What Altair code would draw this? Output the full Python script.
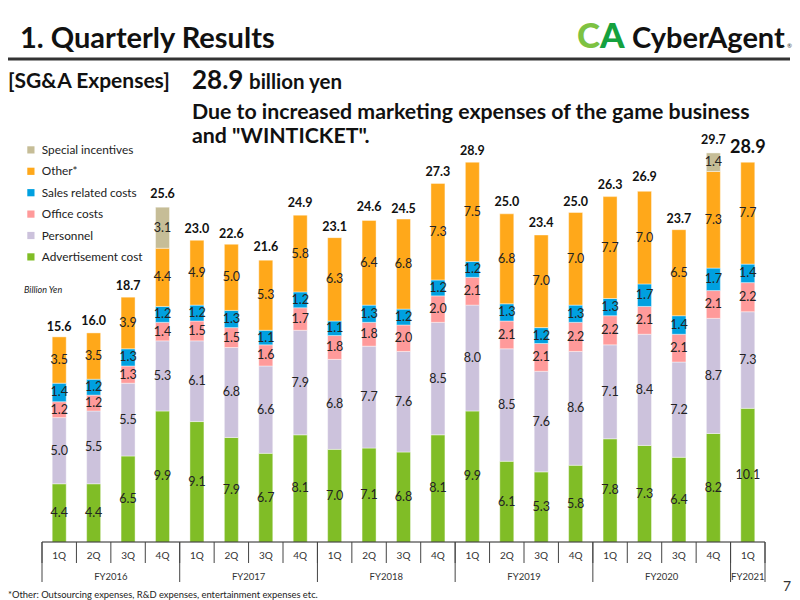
import altair as alt
import pandas as pd

# ---------------- data ----------------
quarter_labels = ["1Q", "2Q", "3Q", "4Q"] * 5 + ["1Q"]
fiscal_years = ["FY2016", "FY2017", "FY2018", "FY2019", "FY2020", "FY2021"]
quarters_per_year = [4, 4, 4, 4, 4, 1]

advertisement = [4.4, 4.4, 6.5, 9.9, 9.1, 7.9, 6.7, 8.1, 7.0, 7.1, 6.8, 8.1, 9.9, 6.1, 5.3, 5.8, 7.8, 7.3, 6.4, 8.2, 10.1]
personnel = [5.0, 5.5, 5.5, 5.3, 6.1, 6.8, 6.6, 7.9, 6.8, 7.7, 7.6, 8.5, 8.0, 8.5, 7.6, 8.6, 7.1, 8.4, 7.2, 8.7, 7.3]
office = [1.2, 1.2, 1.3, 1.4, 1.5, 1.5, 1.6, 1.7, 1.8, 1.8, 2.0, 2.0, 2.1, 2.1, 2.1, 2.2, 2.2, 2.1, 2.1, 2.1, 2.2]
sales = [1.4, 1.2, 1.3, 1.2, 1.2, 1.3, 1.1, 1.2, 1.1, 1.3, 1.2, 1.2, 1.2, 1.3, 1.2, 1.3, 1.3, 1.7, 1.4, 1.7, 1.4]
other = [3.5, 3.5, 3.9, 4.4, 4.9, 5.0, 5.3, 5.8, 6.3, 6.4, 6.8, 7.3, 7.5, 6.8, 7.0, 7.0, 7.7, 7.0, 6.5, 7.3, 7.7]
special = [0, 0, 0, 3.1, 0, 0, 0, 0, 0, 0, 0, 0, 0, 0, 0, 0, 0, 0, 0, 1.4, 0]
totals = [15.6, 16.0, 18.7, 25.6, 23.0, 22.6, 21.6, 24.9, 23.1, 24.6, 24.5, 27.3, 28.9, 25.0, 23.4, 25.0, 26.3, 26.9, 23.7, 29.7, 28.9]

categories = ["Special incentives", "Other*", "Sales related costs", "Office costs", "Personnel", "Advertisement cost"]
colors = ["#C6BD97", "#FFA81A", "#00A0E0", "#FF9A9A", "#CCC2DC", "#80BD26"]

# ---------------- tables ----------------
series_bottom_up = [
    ("Advertisement cost", advertisement),
    ("Personnel", personnel),
    ("Office costs", office),
    ("Sales related costs", sales),
    ("Other*", other),
    ("Special incentives", special),
]
rows = []
for i in range(len(quarter_labels)):
    base = 0.0
    for cat, vals in series_bottom_up:
        v = vals[i]
        if v > 0:
            rows.append({"idx": i, "category": cat, "value": v,
                         "y0": base, "y1": base + v, "mid": base + v / 2})
            base += v
seg = pd.DataFrame(rows)

tot = pd.DataFrame({"idx": list(range(len(totals))), "total": totals})
qdf = pd.DataFrame({"idx": list(range(len(quarter_labels))), "q": quarter_labels})

yrows = []
start = 0
for fy, n in zip(fiscal_years, quarters_per_year):
    yrows.append({"fy": fy, "center": start + (n - 1) / 2})
    start += n
ydf = pd.DataFrame(yrows)

qticks = pd.DataFrame({"b": [i - 0.5 for i in range(len(quarter_labels) + 1)]})
yb = [-0.5]
s = -0.5
for n in quarters_per_year:
    s += n
    yb.append(s)
yticks = pd.DataFrame({"b": yb})
baseline = pd.DataFrame({"a": [-0.5], "b": [len(quarter_labels) - 0.5]})

W, H = 733, 397
FONT = "Lato"
xs = alt.Scale(domain=[-0.5, len(quarter_labels) - 0.5], nice=False, zero=False)
ys = alt.Scale(domain=[0, 30], nice=False)

bars = alt.Chart(seg).mark_bar(size=14, stroke="#ffffff", strokeWidth=0.6, strokeOpacity=0.7).encode(
    x=alt.X("idx:Q", scale=xs, axis=None),
    y=alt.Y("y0:Q", scale=ys, axis=None),
    y2="y1:Q",
    color=alt.Color("category:N", scale=alt.Scale(domain=categories, range=colors),
                    legend=alt.Legend(orient="none", legendX=-12, legendY=-1, title=None,
                                      symbolType="square", symbolSize=52, symbolStrokeWidth=0,
                                      labelFont=FONT, labelFontSize=11.8, labelColor="#222",
                                      labelOffset=5, rowPadding=8.4)),
)

seg_text = alt.Chart(seg).mark_text(font=FONT, fontSize=12.5, color="#222").encode(
    x=alt.X("idx:Q", scale=xs), y=alt.Y("mid:Q", scale=ys),
    text=alt.Text("value:Q", format=".1f"))

tot_text = alt.Chart(tot).transform_filter("datum.idx < 20").mark_text(
    font=FONT, fontSize=12.5, fontWeight="bold", color="#111", baseline="alphabetic", dy=-5).encode(
    x=alt.X("idx:Q", scale=xs), y=alt.Y("total:Q", scale=ys),
    text=alt.Text("total:Q", format=".1f"))

tot_last = alt.Chart(tot).transform_filter("datum.idx == 20").mark_text(
    font=FONT, fontSize=18, fontWeight="bold", color="#111", baseline="alphabetic", dy=-7).encode(
    x=alt.X("idx:Q", scale=xs), y=alt.Y("total:Q", scale=ys),
    text=alt.Text("total:Q", format=".1f"))

base_rule = alt.Chart(baseline).mark_rule(color="#222", strokeWidth=1).encode(
    x=alt.X("a:Q", scale=xs), x2="b:Q", y=alt.value(H))
q_rules = alt.Chart(qticks).mark_rule(color="#444", strokeWidth=1).encode(
    x=alt.X("b:Q", scale=xs), y=alt.value(H), y2=alt.value(H + 21))
y_rules = alt.Chart(yticks).mark_rule(color="#444", strokeWidth=1).encode(
    x=alt.X("b:Q", scale=xs), y=alt.value(H), y2=alt.value(H + 40))

q_text = alt.Chart(qdf).mark_text(font=FONT, fontSize=10, color="#333").encode(
    x=alt.X("idx:Q", scale=xs), y=alt.value(H + 14), text="q:N")
y_text = alt.Chart(ydf).mark_text(font=FONT, fontSize=9.5, color="#333").encode(
    x=alt.X("center:Q", scale=xs), y=alt.value(H + 35), text="fy:N")

one = pd.DataFrame({"k": [0]})


def label(txt, x, y, size, weight="normal", color="#111", style="normal", align="left"):
    return alt.Chart(one).mark_text(text=txt, font=FONT, fontSize=size, fontWeight=weight,
                                    fontStyle=style, color=color, align=align,
                                    baseline="alphabetic").encode(x=alt.value(x), y=alt.value(y))


header_line = alt.Chart(one).mark_rule(color="#333", strokeWidth=3).encode(
    x=alt.value(-29), x2=alt.value(753), y=alt.value(-86))

texts = [
    label("1.  Quarterly Results", -17, -97, 29, "bold"),
    label("C", 540, -97, 35, 900, "#7DC242"),
    label("A", 563, -97, 35, 900, "#15A13E"),
    label("CyberAgent", 595, -97, 29, "bold", "#111"),
    label("®", 750, -97, 6, "normal", "#333"),
    label("[SG&A Expenses]", -29, -57, 21, "bold"),
    label("28.9", 155, -56, 26, "bold"),
    label("billion yen", 212, -56, 20.5, "bold"),
    label("Due to increased marketing expenses of the game business", 155, -26, 21.3, "bold"),
    label("and \"WINTICKET\".", 155, -2, 21.3, "bold"),
    label("Billion Yen", -13, 148, 9, "normal", "#222", "italic"),
    label("*Other: Outsourcing expenses, R&D expenses, entertainment expenses etc.", -29, 453, 9.4, "normal", "#222"),
    label("7", 746, 446, 14, "normal", "#333"),
]

chart = alt.layer(
    bars, seg_text, tot_text, tot_last, base_rule, q_rules, y_rules, q_text, y_text, header_line, *texts
).properties(
    width=W, height=H,
    autosize=alt.AutoSizeParams(type="none"),
    padding={"left": 37, "top": 145, "right": 30, "bottom": 58},
    background="white",
).configure_view(stroke=None)

chart.save("out.html", embed_options={"renderer": "svg", "actions": False})
